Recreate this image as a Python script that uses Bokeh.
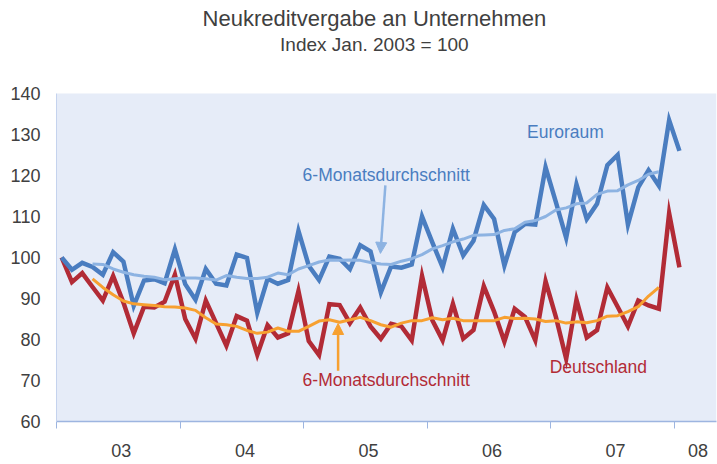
from bokeh.plotting import figure
from bokeh.models import Range1d, FixedTicker, Label, Arrow, NormalHead, BoxAnnotation
from bokeh.embed import file_html
from bokeh.resources import INLINE

# Monthly index, Jan 2003 .. Jan 2008 (Jan 2003 = 100)
months = list(range(61))
euroraum = [100.0, 97.0, 98.7, 97.7, 95.8, 101.3, 99.0, 88.2, 94.4, 94.7,
            93.7, 102.0, 93.5, 89.7, 97.2, 93.6, 93.2, 100.7, 99.9, 86.5,
            94.8, 93.6, 94.5, 106.5, 98.0, 94.5, 100.2, 99.7, 97.2, 103.0,
            101.5, 91.5, 97.8, 97.5, 98.3, 110.0, 103.7, 97.6, 107.0, 100.5,
            104.1, 112.8, 109.4, 98.0, 106.2, 108.2, 108.0, 122.0, 113.5, 104.8,
            117.8, 109.4, 113.1, 122.5, 125.0, 108.0, 117.1, 121.3, 117.5, 133.5,
            126.0]
deutschland = [100.0, 94.0, 96.2, 92.8, 89.5, 95.5, 89.0, 81.5, 88.0, 87.8,
               89.2, 95.8, 85.0, 80.2, 89.5, 84.0, 78.5, 85.7, 84.6, 76.3,
               83.5, 80.5, 81.5, 91.8, 79.6, 76.2, 88.6, 88.4, 84.0, 87.8,
               83.2, 80.2, 83.8, 83.2, 79.8, 95.5, 84.7, 79.8, 88.7, 80.2,
               82.3, 93.0, 86.8, 79.5, 87.5, 85.5, 79.8, 94.2, 85.5, 75.3,
               89.7, 80.5, 82.3, 92.7, 88.0, 83.2, 89.5, 88.3, 87.5, 110.8,
               97.6]
# 6-month averages (Apr 2003 .. Nov 2007)
avg_months = list(range(3, 59))
euro_avg = [98.4, 98.3, 97.2, 96.4, 95.8, 95.4, 95.2, 94.6, 94.8, 95.0,
            95.0, 94.8, 94.5, 95.6, 95.2, 94.9, 94.9, 95.2, 96.2, 95.8,
            97.2, 98.0, 98.9, 99.4, 99.3, 99.4, 99.3, 98.8, 98.4, 98.3,
            99.1, 99.7, 100.7, 102.1, 102.9, 103.8, 104.5, 105.4, 105.5, 105.6,
            106.6, 107.0, 108.6, 109.0, 110.0, 111.6, 112.1, 113.1, 113.3, 115.4,
            116.2, 116.3, 117.7, 118.8, 120.3, 120.9]
de_avg = [94.8, 92.7, 90.9, 89.4, 88.7, 88.5, 88.3, 88.0, 87.9, 87.7,
          87.1, 85.3, 83.8, 83.6, 83.2, 82.2, 81.5, 81.8, 82.8, 82.0,
          82.0, 83.2, 84.5, 84.8, 84.2, 84.8, 85.4, 84.6, 83.6, 83.0,
          84.0, 84.6, 84.6, 85.3, 84.8, 85.2, 84.6, 84.6, 84.6, 84.6,
          85.4, 85.1, 85.2, 85.0, 84.4, 84.6, 84.0, 84.3, 84.1, 84.6,
          85.7, 85.8, 86.8, 88.0, 90.6, 92.7]
year_labels = ["03", "04", "05", "06", "07", "08"]
year_label_pos = [6.3, 18.3, 30.3, 42.3, 54.3, 62.3]
year_bounds = [0, 12, 24, 36, 48, 60]
y_ticks = [60, 70, 80, 90, 100, 110, 120, 130, 140]
Y_MIN, Y_MAX = 60, 140
X_MAX = 64.1

FONT = "Liberation Sans"
BLUE = "#4A7DC0"
RED = "#B22B36"
LBLUE = "#8DB3E2"
ORANGE = "#F7A030"
TXT = "#404040"
PLOT_BG = "#E6ECF8"

x = [m + 0.5 for m in months]
xa = [m + 0.5 for m in avg_months]

# the frame reaches up to the canvas top; the upper part holds the titles
p = figure(width=717, height=464, output_backend="svg", toolbar_location=None,
           x_range=Range1d(0, X_MAX), y_range=Range1d(Y_MIN, 162.68),
           min_border_left=56, min_border_right=1, min_border_bottom=43,
           min_border_top=0)
p.background_fill_color = "white"
p.border_fill_color = "white"
p.outline_line_color = None
p.grid.visible = False

# light blue plot area (60..140)
p.add_layout(BoxAnnotation(left=0, right=X_MAX, bottom=Y_MIN, top=Y_MAX,
                           fill_color=PLOT_BG, fill_alpha=1.0, line_color=None,
                           level="underlay"))

# titles
p.add_layout(Label(x=30.87, y=158.3, text="Neukreditvergabe an Unternehmen",
                   text_font=FONT, text_font_size="22px", text_color=TXT,
                   text_align="center", text_baseline="middle"))
p.add_layout(Label(x=30.87, y=151.95, text="Index Jan. 2003 = 100",
                   text_font=FONT, text_font_size="19px", text_color=TXT,
                   text_align="center", text_baseline="middle"))

# x axis
p.xaxis.ticker = FixedTicker(ticks=year_label_pos, minor_ticks=year_bounds)
p.xaxis.major_label_overrides = {pos: lab for pos, lab in zip(year_label_pos, year_labels)}
p.xaxis.major_tick_line_color = None
p.xaxis.major_tick_out = 7
p.xaxis.major_tick_in = 0
p.xaxis.minor_tick_line_color = "#9DB5E0"
p.xaxis.minor_tick_out = 7
p.xaxis.minor_tick_in = 0
p.xaxis.axis_line_color = "#9DB5E0"
p.xaxis.axis_line_width = 1.5
p.xaxis.major_label_standoff = 15
p.xaxis.major_label_text_font = FONT
p.xaxis.major_label_text_font_size = "18px"
p.xaxis.major_label_text_color = TXT

# y axis
p.yaxis.ticker = FixedTicker(ticks=y_ticks)
p.yaxis.bounds = (Y_MIN, Y_MAX)
p.yaxis.major_tick_line_color = None
p.yaxis.minor_tick_line_color = None
p.yaxis.major_tick_out = 0
p.yaxis.axis_line_color = "#C5D3EE"
p.yaxis.major_label_standoff = 16
p.yaxis.major_label_text_font = FONT
p.yaxis.major_label_text_font_size = "18px"
p.yaxis.major_label_text_color = TXT

p.line(x, deutschland, line_color=RED, line_width=4.5, line_join="miter")
p.line(x, euroraum, line_color=BLUE, line_width=4.5, line_join="miter")
p.line(xa, de_avg, line_color=ORANGE, line_width=3, line_join="round")
p.line(xa, euro_avg, line_color=LBLUE, line_width=3, line_join="round")

def lab(xv, yv, text, color):
    p.add_layout(Label(x=xv, y=yv, text=text, text_color=color, text_font=FONT,
                       text_font_size="17.5px", text_baseline="middle", text_align="left"))

lab(45.7, 130.7, "Euroraum", BLUE)
lab(23.9, 120.0, "6-Monatsdurchschnitt", BLUE)
lab(23.9, 70.0, "6-Monatsdurchschnitt", RED)
lab(47.9, 73.2, "Deutschland", RED)

p.add_layout(Arrow(x_start=31.94, y_start=117.6, x_end=31.46, y_end=101.0,
                   line_color=LBLUE, line_width=2.5,
                   end=NormalHead(size=11, fill_color=LBLUE, line_color=LBLUE)))
p.add_layout(Arrow(x_start=27.35, y_start=72.4, x_end=27.35, y_end=83.9,
                   line_color=ORANGE, line_width=2.5,
                   end=NormalHead(size=11, fill_color=ORANGE, line_color=ORANGE)))

open("out.html", "w").write(file_html(p, INLINE))
